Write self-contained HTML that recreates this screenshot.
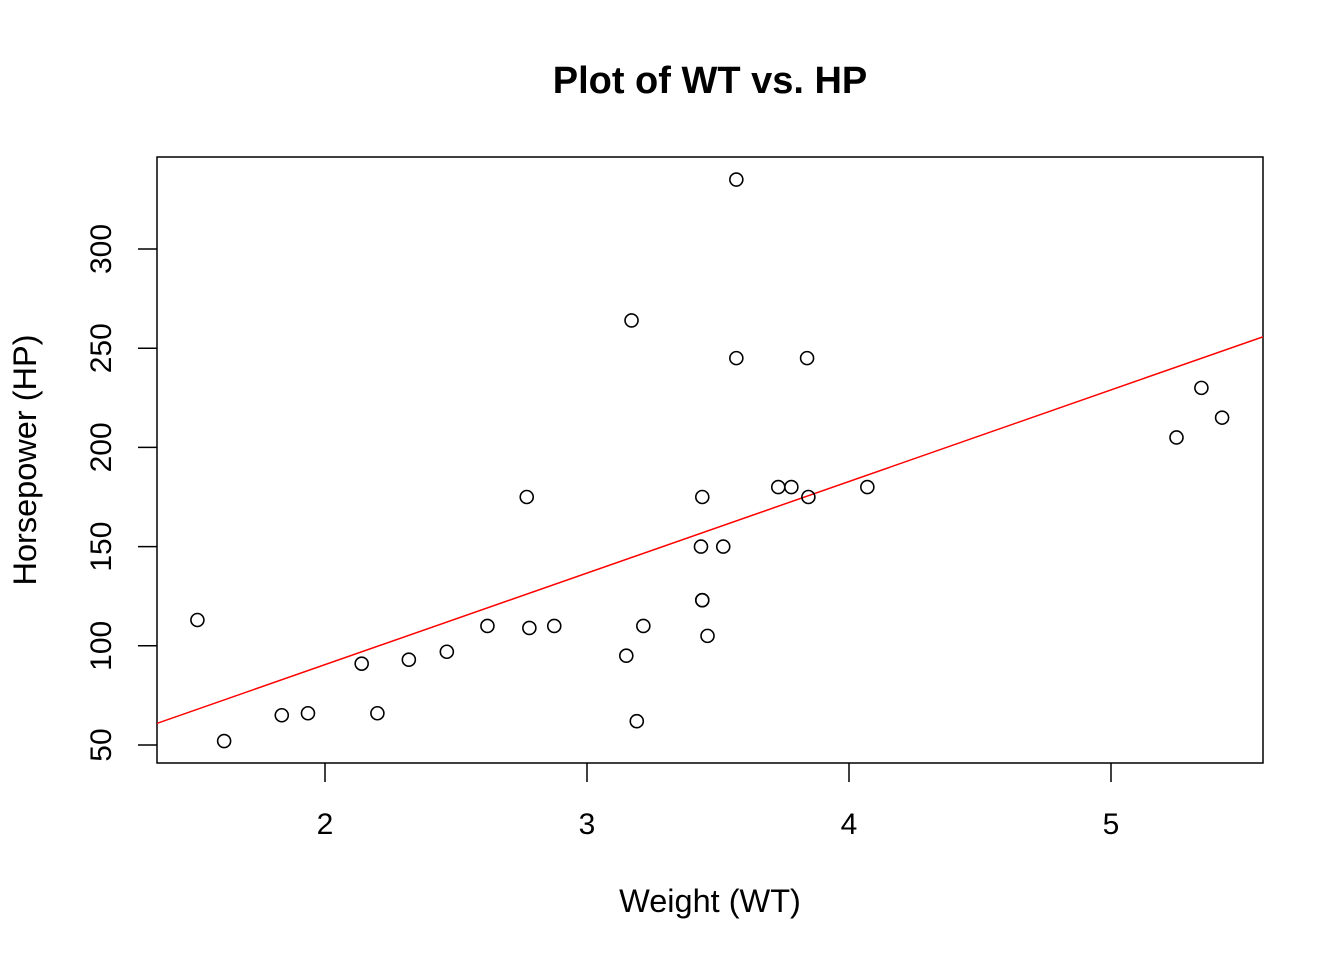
<!DOCTYPE html>
<html><head><meta charset="utf-8"><style>
body{margin:0;background:#fff;}
svg{display:block;font-family:"Liberation Sans",Arial,sans-serif;}
</style></head><body>
<svg id="chart" width="1344" height="960">
<text x="710" y="93" text-anchor="middle" font-size="38" font-weight="bold">Plot of WT vs. HP</text>
<rect x="157" y="157" width="1106" height="606" fill="none" stroke="#000" stroke-width="1.5"/>
<g id="xticks"></g><g id="yticks"></g>
<text x="710" y="912" text-anchor="middle" font-size="32.5">Weight (WT)</text>
<text transform="translate(36,460) rotate(-90)" text-anchor="middle" font-size="32.5">Horsepower (HP)</text>
<defs><clipPath id="clip"><rect x="157" y="157" width="1106" height="606"/></clipPath></defs>
<g id="fit" clip-path="url(#clip)"></g>
<g id="points"></g>
</svg>
<script>
const wt=[2.620,2.875,2.320,3.215,3.440,3.460,3.570,3.190,3.150,3.440,3.440,4.070,3.730,3.780,5.250,5.424,5.345,2.200,1.615,1.835,2.465,3.520,3.435,3.840,3.845,1.935,2.140,1.513,3.170,2.770,3.570,2.780];
const hp=[110,110,93,110,175,105,245,62,95,123,123,180,180,180,205,215,230,66,52,65,97,150,150,245,175,66,91,113,264,175,335,109];
const xTicks=[2,3,4,5];
const yTicks=[50,100,150,200,250,300];
const fitCoef=[-1.821,46.160];
const NS='http://www.w3.org/2000/svg';
const X=v=>325+(v-2)*262;
const Y=v=>745-(v-50)*1.984;
function mk(t,a,p){const e=document.createElementNS(NS,t);for(const k in a)e.setAttribute(k,a[k]);p.appendChild(e);return e;}
const xg=document.getElementById('xticks');
xTicks.forEach(v=>{
 const l=mk('line',{x1:X(v),x2:X(v),y1:763,y2:782,stroke:'#000','stroke-width':1.5},xg);
 
 
 const t=mk('text',{x:X(v),y:834,'text-anchor':'middle','font-size':30},xg);t.textContent=v;
 
 
});
const yg=document.getElementById('yticks');
yTicks.forEach(v=>{
 const l=mk('line',{x1:138,x2:157,y1:Y(v),y2:Y(v),stroke:'#000','stroke-width':1.5},yg);
 
 
 const t=mk('text',{transform:`translate(111,${Y(v)}) rotate(-90)`,'text-anchor':'middle','font-size':30},yg);t.textContent=v;
 
 
});
const fg=document.getElementById('fit');
const x0=1.2,x1=5.8;
const fl=mk('line',{x1:X(x0),y1:Y(fitCoef[0]+fitCoef[1]*x0),x2:X(x1),y2:Y(fitCoef[0]+fitCoef[1]*x1),stroke:'#ff0000','stroke-width':1.5},fg);


const pg=document.getElementById('points');
wt.forEach((w,i)=>{
 const c=mk('circle',{cx:X(w),cy:Y(hp[i]),r:6.5,fill:'none',stroke:'#000','stroke-width':1.6},pg);
 
 
});
</script>
</body></html>
